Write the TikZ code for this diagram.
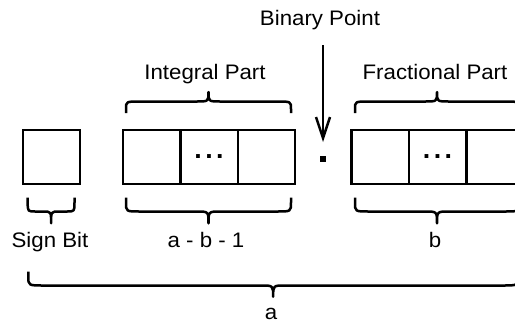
\documentclass[tikz,border=0pt]{standalone}
\usepackage{fontspec}
\setmainfont{Liberation Sans}[FakeStretch=1.06]
\usetikzlibrary{arrows.meta}

\tikzset{
  cell/.style={draw, line width=2.5pt, minimum width=57.4pt, minimum height=54pt,
               inner sep=0pt, outer sep=0pt},
  lbl/.style={font=\fontsize{21}{25}\selectfont, inner sep=0pt, anchor=base},
  dotsfont/.style={font=\fontsize{37}{40}\selectfont, inner sep=0pt, anchor=base},
  brace line/.style={line width=2.5pt, line join=round},
  pointer/.style={line width=2.5pt, -{Straight Barb[length=21pt,width=14pt]}},
  radix/.style={fill=black, minimum size=6pt, inner sep=0pt, outer sep=0pt},
}

% curly brace: left x, right x, end y, bar y, tip y, end corner, middle corner
\newcommand\fxbrace[7]{%
  \draw[brace line] (#1,#3) -- (#1,{#3+0.35*(#4-#3)})
    .. controls (#1,#4) .. ({#1+#6},#4)
    -- ({(#1+#2)/2-#7},#4) .. controls ({(#1+#2)/2},#4) .. ({(#1+#2)/2},#5)
    .. controls ({(#1+#2)/2},#4) .. ({(#1+#2)/2+#7},#4)
    -- ({#2-#6},#4) .. controls (#2,#4) .. (#2,{#3+0.35*(#4-#3)}) -- (#2,#3);}

\begin{document}
\begin{tikzpicture}[x=1pt,y=-1pt]
  \useasboundingbox (0,0) rectangle (515,325);
  \clip (0,0) rectangle (515,325);

  % sign bit
  \node[cell] (sign) at (51.5,157) {};

  % integral part cells
  \node[cell] (i1) at (151.7,157) {};
  \node[cell] (i2) at (209.1,157) {};
  \node[cell] (i3) at (266.5,157) {};
  \node[dotsfont] (idots) at (209,158.7) {...};

  % binary point
  \node[radix] (bp) at (323,159) {};

  % fractional part cells
  \node[cell] (f1) at (380.4,157) {};
  \node[cell] (f2) at (437.8,157) {};
  \node[cell] (f3) at (495.2,157) {};
  \node[dotsfont] (fdots) at (437.5,158.7) {...};

  % labels
  \node[lbl] (bplabel) at (320,25) {Binary Point};
  \node[lbl] (intlabel) at (205,79) {Integral Part};
  \node[lbl] (fraclabel) at (435,79) {Fractional Part};
  \node[lbl] (signlabel) at (50,247.3) {Sign Bit};
  \node[lbl] (intwidth) at (206,247.3) {a - b - 1};
  \node[lbl] (fracwidth) at (435,247.3) {b};
  \node[lbl] (total) at (271,319.5) {a};

  % pointer to the binary point
  \coordinate (arrtop) at (323,45);
  \draw[pointer, shorten >=14pt] (arrtop) -- (bp);

  % braces above
  \fxbrace{126}{291}{113}{101.5}{92}{14}{12}
  \fxbrace{355}{519}{113}{101.5}{92}{14}{12}

  % braces below
  \fxbrace{27.7}{74.5}{197.7}{211.5}{223.3}{8}{8}
  \fxbrace{126}{291}{197.7}{211.5}{223.3}{14}{12}
  \fxbrace{355}{519}{197.7}{211.5}{223.3}{14}{12}
  \fxbrace{28.3}{518}{271.7}{285.5}{296.7}{16}{12}
\end{tikzpicture}
\end{document}
